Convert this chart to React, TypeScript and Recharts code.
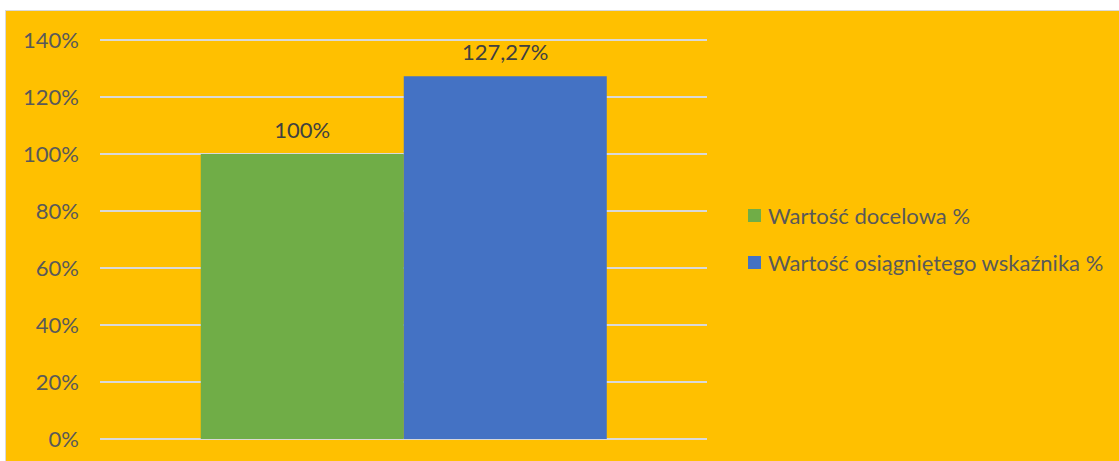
import { BarChart, Bar, XAxis, YAxis, CartesianGrid, Legend, LabelList } from "recharts";

const categories = ["Wskaźnik"];
const targetValues = [100];
const achievedValues = [127.27];
const yTicks = [0, 20, 40, 60, 80, 100, 120, 140];
const seriesNames = ["Wartość docelowa %", "Wartość osiągniętego wskaźnika %"];

const data = categories.map((c, i) => ({ name: c, target: targetValues[i], achieved: achievedValues[i] }));

const FONT = "Lato, 'Noto Sans', sans-serif";
const pct = (v: number) => String(v).replace(".", ",") + "%";

function LegendBox({ payload }: any) {
  return (
    <div style={{ fontFamily: FONT, fontSize: 22, color: "#595959" }}>
      {(payload || []).map((p: any) => (
        <div key={p.value} style={{ display: "flex", alignItems: "center", height: 47 }}>
          <span style={{ width: 13, height: 13, background: p.color, marginRight: 7, display: "inline-block" }} />
          {p.value}
        </div>
      ))}
    </div>
  );
}

export default function App() {
  return (
    <div style={{ position: "absolute", left: 0, top: 0, width: 1119, height: 461, background: "#fff", overflow: "hidden" }}>
      <div style={{ position: "absolute", left: 5, top: 10, width: 1114, height: 451, background: "#FFC000", borderTop: "1px solid #D9D9D9", borderLeft: "1px solid #D9D9D9", boxSizing: "border-box" }}>
        <BarChart
          width={1113}
          height={450}
          data={data}
          margin={{ top: 29, right: 42, bottom: 22, left: 0 }}
          barCategoryGap="16.6%"
          barGap={0}
        >
          <CartesianGrid vertical={false} stroke="#D9D9D9" strokeWidth={2} />
          <XAxis dataKey="name" hide />
          <YAxis
            width={94}
            domain={[0, 140]}
            ticks={yTicks}
            axisLine={false}
            tickLine={false}
            tickMargin={15}
            tickFormatter={(v: number) => `${v}%`}
            tick={{ fill: "#595959", fontSize: 22, fontFamily: FONT }}
          />
          <Legend
            layout="vertical"
            align="right"
            verticalAlign="middle"
            content={<LegendBox />}
            wrapperStyle={{ left: 742, top: 181, width: 370 }}
          />
          <Bar dataKey="target" name={seriesNames[0]} fill="#70AD47" isAnimationActive={false}>
            <LabelList dataKey="target" position="top" offset={16} formatter={(v: any) => pct(v)} style={{ fill: "#404040", fontSize: 22, fontFamily: FONT }} />
          </Bar>
          <Bar dataKey="achieved" name={seriesNames[1]} fill="#4472C4" isAnimationActive={false}>
            <LabelList dataKey="achieved" position="top" offset={16} formatter={(v: any) => pct(v)} style={{ fill: "#404040", fontSize: 22, fontFamily: FONT }} />
          </Bar>
        </BarChart>
      </div>
    </div>
  );
}
